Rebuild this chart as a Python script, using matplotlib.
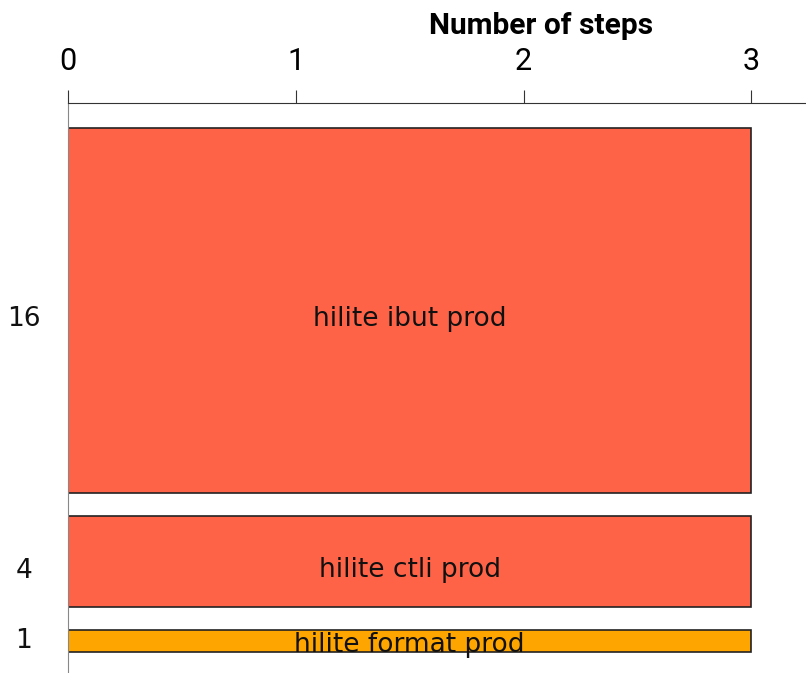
import matplotlib
matplotlib.use("Agg")
import matplotlib.pyplot as plt

labels = ["hilite ibut prod", "hilite ctli prod", "hilite format prod"]
counts = [16, 4, 1]
steps = [3, 3, 3]
colors = ["#FF6347", "#FF6347", "#FFA500"]
x_ticks = [0, 1, 2, 3]

fig = plt.figure(figsize=(8.06, 6.73), dpi=100)
ax = fig.add_axes([68/806, 0, 1 - 68/806, 1 - 103/673])

gap = 1.0
top_pad = 1.1
y = top_pad
centers = []
for c, s, col in zip(counts, steps, colors):
    ax.barh(y, s, height=c, align="edge", color=col, edgecolor="#222222", linewidth=1.2)
    centers.append(y + c / 2)
    y += c + gap
total = y - gap + 0.9

# label baseline offsets (pixels below bar centre) and y-label offsets
text_base = [15.5, 15.5, 10.5]
ylab_off = [8.5, 10, 0]
for lab, c, s, cy, tb, yo in zip(labels, counts, steps, centers, text_base, ylab_off):
    ax.annotate(lab, xy=(s / 2, cy), xytext=(0, -tb), textcoords="offset pixels",
                ha="center", va="baseline", fontsize=19, family="DejaVu Sans",
                color="#111111")
    ax.annotate(str(c), xy=(0, cy), xycoords=ax.get_yaxis_transform(),
                xytext=(-44, -yo), textcoords="offset pixels",
                ha="center", va="center", fontsize=19, family="DejaVu Sans",
                color="#111111", annotation_clip=False)

ax.set_ylim(total, 0)
ax.set_xlim(0, 3.24)
ax.xaxis.tick_top()
ax.set_xticks(x_ticks)
ax.set_xticklabels([str(t) for t in x_ticks], family="Roboto", fontsize=22)
ax.tick_params(axis="x", length=9.4, width=0.8, color="#333333", pad=10)
ax.set_yticks([])

for sp in ["right", "bottom"]:
    ax.spines[sp].set_visible(False)
ax.spines["top"].set_color("#333333")
ax.spines["left"].set_color("#888888")

fig.text(541/806, 1 - 34/673, "Number of steps", ha="center", va="baseline",
         fontsize=21.5, fontweight="bold", family="Roboto")

fig.savefig("out.png", dpi=100)
